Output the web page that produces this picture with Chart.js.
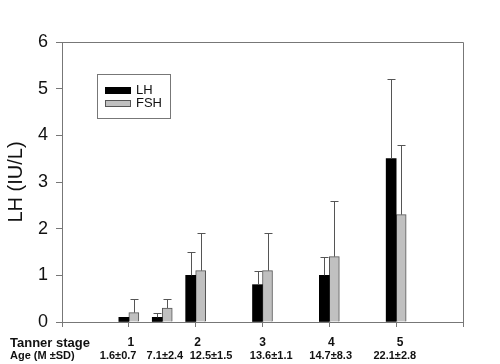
<!DOCTYPE html>
<html>
<head>
<meta charset="utf-8">
<script src="https://cdn.jsdelivr.net/npm/chart.js@4"></script>
<style>
html,body{margin:0;padding:0;background:#fff;}
#wrap{width:500px;height:364px;}
</style>
</head>
<body>
<div id="wrap"><canvas id="lhChart" width="500" height="364"></canvas></div>
<script>
// dados
const groupPos=[1,1.5,2,3,4,5];
const ageLabels=['1.6±0.7','7.1±2.4','12.5±1.5','13.6±1.1','14.7±8.3','22.1±2.8'];
const stageLabels=['1','2','3','4','5'];
const lhMean=[0.1,0.1,1.0,0.8,1.0,3.5];
const lhSD=[0,0.1,0.5,0.3,0.4,1.7];
const fshMean=[0.2,0.3,1.1,1.1,1.4,2.3];
const fshSD=[0.3,0.2,0.8,0.8,1.2,1.5];
const yTicks=[0,1,2,3,4,5,6];

// posições dos textos abaixo do eixo (em unidades do eixo x)
const agePos=[0.84,1.54,2.23,3.13,4.02,4.98];
const stagePos=[1.03,2.03,3.0,4.03,5.06];

const errSets=[lhSD,fshSD];

const extras={
  id:'extras',
  beforeDatasetsDraw(chart){
    const {ctx,chartArea:a}=chart;
    ctx.save();
    ctx.strokeStyle='#777';ctx.lineWidth=1;
    ctx.beginPath();
    ctx.moveTo(a.left,a.top+0.5);ctx.lineTo(a.right+0.5,a.top+0.5);ctx.lineTo(a.right+0.5,a.bottom);
    ctx.stroke();
    ctx.restore();
  },
  afterDatasetsDraw(chart){
    const {ctx,scales:{x,y}}=chart;
    ctx.save();
    ctx.strokeStyle='#555';ctx.lineWidth=1;
    chart.data.datasets.forEach((ds,di)=>{
      const meta=chart.getDatasetMeta(di);
      meta.data.forEach((el,i)=>{
        const sd=errSets[di][i];
        if(!sd)return;
        const cx=Math.round(el.x)+0.5;
        const y0=y.getPixelForValue(ds.data[i].y);
        const y1=Math.round(y.getPixelForValue(ds.data[i].y+sd))+0.5;
        ctx.beginPath();
        ctx.moveTo(cx,y0);ctx.lineTo(cx,y1);
        ctx.moveTo(cx-4,y1);ctx.lineTo(cx+4,y1);
        ctx.stroke();
      });
    });
    ctx.restore();
  },
  afterDraw(chart){
    const {ctx,scales:{x}}=chart;
    ctx.save();
    // legenda
    ctx.strokeStyle='#777';ctx.lineWidth=1;
    ctx.strokeRect(97.5,74.5,73,44);
    ctx.fillStyle='#000';ctx.fillRect(105,87,26,7);
    ctx.fillStyle='#c0c0c0';ctx.fillRect(105,100,26,7);
    ctx.strokeStyle='#555';ctx.strokeRect(105.5,100.5,25,6);
    ctx.fillStyle='#111';ctx.font='13px Arial, "Liberation Sans"';
    ctx.textBaseline='middle';ctx.textAlign='left';
    ctx.fillText('LH',136,90.5);
    ctx.fillText('FSH',136,103.5);
    // textos abaixo do eixo
    ctx.font='bold 13px Arial, "Liberation Sans"';
    ctx.fillText('Tanner stage',10,343);
    ctx.font='bold 11px Arial, "Liberation Sans"';
    ctx.fillText('Age (M ±SD)',10,356);
    ctx.textAlign='center';
    ctx.font='bold 12px Arial, "Liberation Sans"';
    stageLabels.forEach((s,i)=>ctx.fillText(s,x.getPixelForValue(stagePos[i]),343));
    ctx.font='bold 11px Arial, "Liberation Sans"';
    ageLabels.forEach((s,i)=>ctx.fillText(s,x.getPixelForValue(agePos[i]),356));
    ctx.restore();
  }
};

new Chart(document.getElementById('lhChart'),{
  type:'bar',
  data:{
    datasets:[
      {label:'LH',data:groupPos.map((p,i)=>({x:p,y:lhMean[i]})),backgroundColor:'#000',borderColor:'#000',borderWidth:0,barThickness:10},
      {label:'FSH',data:groupPos.map((p,i)=>({x:p,y:fshMean[i]})),backgroundColor:'#c0c0c0',borderColor:'#555',borderWidth:1,barThickness:10}
    ]
  },
  options:{
    responsive:false,
    animation:false,
    layout:{padding:{left:0,top:42,right:37,bottom:0}},
    plugins:{legend:{display:false},tooltip:{enabled:false}},
    scales:{
      x:{
        type:'linear',min:0,max:6,offset:false,
        afterFit:s=>{s.height=42;},
        ticks:{stepSize:1,callback:()=>''},
        grid:{offset:false,drawOnChartArea:false,drawTicks:true,tickLength:5,color:'#777'},
        border:{color:'#777'}
      },
      y:{
        min:0,max:6,
        afterFit:s=>{s.width=62;},
        afterBuildTicks:s=>{s.ticks=yTicks.map(v=>({value:v}));},
        ticks:{color:'#111',font:{size:18,family:'Arial, "Liberation Sans"'},padding:8},
        grid:{drawOnChartArea:false,drawTicks:true,tickLength:6,color:'#777'},
        border:{color:'#777'},
        title:{display:true,text:'LH (IU/L)',color:'#111',font:{size:20,family:'Arial, "Liberation Sans"'},padding:{top:4,bottom:0}}
      }
    }
  },
  plugins:[extras]
});
</script>
</body>
</html>
